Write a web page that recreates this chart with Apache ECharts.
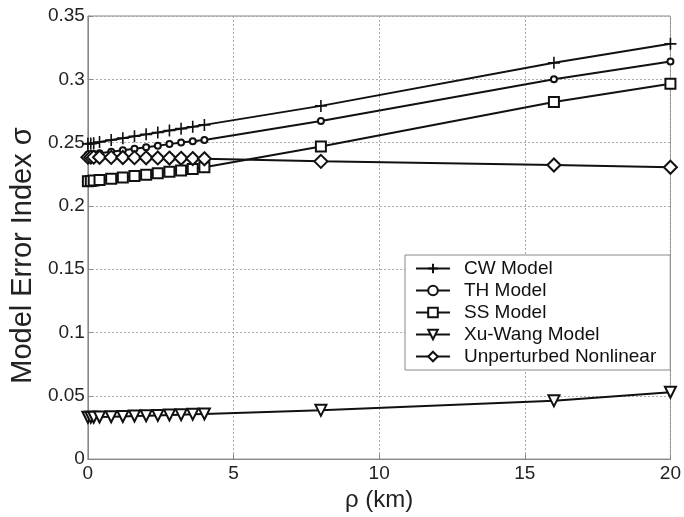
<!DOCTYPE html>
<html>
<head>
<meta charset="utf-8">
<script src="https://cdn.jsdelivr.net/npm/echarts@6/dist/echarts.min.js"></script>
<style>html,body{margin:0;padding:0;background:#fff;}#c{width:684px;height:517px;}</style>
</head>
<body>
<div id="c"></div>
<script>
const rho = [0, 0.1, 0.2, 0.4, 0.8, 1.2, 1.6, 2.0, 2.4, 2.8, 3.2, 3.6, 4.0, 8, 16, 20];
const cwModel = [0.249, 0.2492, 0.2495, 0.2505, 0.252, 0.2535, 0.255, 0.2565, 0.258, 0.2595, 0.261, 0.2625, 0.264, 0.279, 0.313, 0.328];
const thModel = [0.2405, 0.2408, 0.241, 0.2415, 0.2428, 0.244, 0.2452, 0.2464, 0.2476, 0.2488, 0.25, 0.251, 0.252, 0.267, 0.300, 0.314];
const ssModel = [0.2195, 0.2197, 0.22, 0.2205, 0.2215, 0.2225, 0.2236, 0.2247, 0.2258, 0.2269, 0.228, 0.2292, 0.2305, 0.247, 0.282, 0.2964];
const xuWangModel = [0.033, 0.033, 0.0331, 0.0332, 0.0334, 0.0337, 0.034, 0.0342, 0.0345, 0.0348, 0.0351, 0.0354, 0.0357, 0.0385, 0.046, 0.0528];
const unperturbed = [0.2385, 0.2385, 0.2385, 0.2384, 0.2383, 0.2382, 0.2381, 0.238, 0.2379, 0.2378, 0.2376, 0.2374, 0.2372, 0.2352, 0.2323, 0.2305];
const seriesNames = ['CW Model', 'TH Model', 'SS Model', 'Xu-Wang Model', 'Unperturbed Nonlinear'];
const yTicks = [0, 0.05, 0.1, 0.15, 0.2, 0.25, 0.3, 0.35];

const font = 'Liberation Sans, Arial, Helvetica, sans-serif';
function pairs(ys){ return rho.map((x,i)=>[x, ys[i]]); }
function mk(name, ys, symbol, size, rotate){
  const isPath = symbol.indexOf('path')===0;
  return {
    name, type:'line', data: pairs(ys), symbol, symbolSize:size, symbolRotate: rotate||0,
    showAllSymbol:true,
    lineStyle:{color:'#111', width:2},
    itemStyle:{color: isPath ? 'none' : '#111', borderColor:'#111', borderWidth:1.6},
    emphasis:{disabled:true}, z: 3
  };
}
const chart = echarts.init(document.getElementById('c'), null, {renderer:'canvas'});
chart.setOption({
  animation:false,
  backgroundColor:'#fff',
  grid:{left:87, right:11, top:16, bottom:55, show:true, borderColor:'#888', borderWidth:1},
  xAxis:{
    type:'value', min:0, max:20, interval:5,
    name:'ρ (km)', nameLocation:'middle', nameGap:28,
    nameTextStyle:{fontFamily:font, fontSize:24, color:'#222'},
    axisLine:{show:true, lineStyle:{color:'#888'}},
    axisTick:{show:true, inside:true, length:5, lineStyle:{color:'#888'}},
    axisLabel:{fontFamily:font, fontSize:19, color:'#222', margin:5},
    splitLine:{show:true, lineStyle:{color:'#aaa', type:[2,2], width:1}}
  },
  yAxis:{
    type:'value', min:0, max:0.35, interval:0.05,
    name:'Model Error Index σ', nameLocation:'middle', nameGap:42,
    nameTextStyle:{fontFamily:font, fontSize:29, color:'#222', padding:[0,36,0,0]},
    axisLine:{show:true, lineStyle:{color:'#888'}},
    axisTick:{show:true, inside:true, length:5, lineStyle:{color:'#888'}},
    axisLabel:{fontFamily:font, fontSize:19, color:'#222', margin:3,
      formatter: v => { const t = yTicks.find(q=>Math.abs(q-v)<1e-9); return t===undefined ? '' : String(t); }},
    splitLine:{show:true, lineStyle:{color:'#aaa', type:[2,2], width:1}}
  },
  legend:{
    data: seriesNames, orient:'vertical', left:405, top:255,
    backgroundColor:'#fff', borderColor:'#888', borderWidth:1,
    padding:[4,14,4,10], itemGap:3, itemWidth:34, itemHeight:12,
    textStyle:{fontFamily:font, fontSize:19, color:'#111', padding:[0,0,0,9]},
    selectedMode:false
  },
  series:[
    mk(seriesNames[0], cwModel, 'path://M0,-1L0,1M-1,0L1,0', 12),
    mk(seriesNames[1], thModel, 'emptyCircle', 6),
    mk(seriesNames[2], ssModel, 'emptyRect', 10),
    mk(seriesNames[3], xuWangModel, 'emptyTriangle', 11, 180),
    mk(seriesNames[4], unperturbed, 'emptyDiamond', 13)
  ]
});
</script>
</body>
</html>
